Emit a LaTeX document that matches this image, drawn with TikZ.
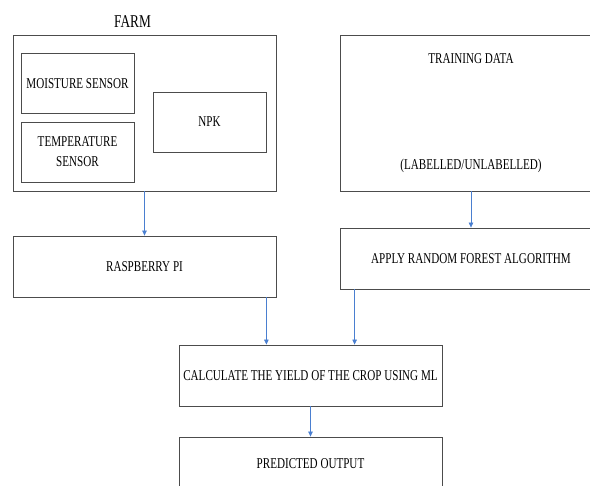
\documentclass[tikz,border=0pt]{standalone}
\usepackage{fontspec}
\setmainfont{Liberation Serif}[FakeStretch=0.74]
\usetikzlibrary{arrows.meta,positioning}
\definecolor{arrowblue}{HTML}{4A7FD0}

\begin{document}
\begin{tikzpicture}[
    x=1pt, y=-1pt,
    box/.style={draw=black!70, line width=0.8pt, minimum width=263pt, minimum height=61pt, inner sep=0pt, align=center, font=\fontsize{15}{20}\selectfont},
    sensor/.style={box, minimum width=113pt, minimum height=60pt},
    arrow/.style={-{Triangle[length=5pt, width=4.5pt]}, draw=arrowblue, line width=0.7pt}
]
\useasboundingbox (0,0) rectangle (590,486);
\clip (0,0) rectangle (590,486);

% farm side
\node[box, minimum height=156pt] (farm) at (144.5,113) {};
\node[font=\fontsize{18}{20}\selectfont, above=4pt of farm.north, xshift=-12pt] (farmlabel) {FARM};
\node[sensor] (moisture) at (77.5,83.5) {MOISTURE SENSOR};
\node[sensor] (temperature) at (77.5,152) {TEMPERATURE\\SENSOR};
\node[sensor] (npk) at (209.5,122) {NPK};

% training side
\node[box, minimum width=262pt, minimum height=156pt] (training) at (471,113) {TRAINING DATA\\[86pt](LABELLED/UNLABELLED)};

\node[box] (raspberry) at (144.5,266.5) {RASPBERRY PI};
\node[box, minimum width=262pt] (apply) at (471,258.5) {APPLY RANDOM FOREST ALGORITHM};
\node[box] (calc) at (310.5,375.5) {CALCULATE THE YIELD OF THE CROP USING ML};
\node[box] (predicted) at (310.5,467.5) {\raisebox{7pt}{PREDICTED OUTPUT}};

\draw[arrow] (farm.south) -- (raspberry.north);
\draw[arrow] (training.south) -- (apply.north);
\draw[arrow] ([xshift=-10pt]raspberry.south east) -- ([xshift=-10pt]raspberry.south east |- calc.north);
\draw[arrow] ([xshift=15pt]apply.south west) -- ([xshift=15pt]apply.south west |- calc.north);
\draw[arrow] (calc.south) -- (predicted.north);
\end{tikzpicture}
\end{document}
